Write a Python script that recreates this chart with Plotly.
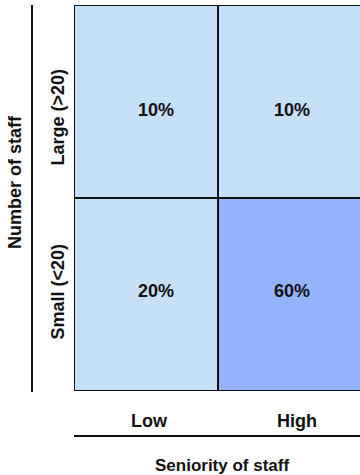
import plotly.graph_objects as go

seniority = ["Low", "High"]
staff_size = ["Small (<20)", "Large (>20)"]
shares = [[20, 60], [10, 10]]  # rows: Small, Large; cols: Low, High
x_title = "Seniority of staff"
y_title = "Number of staff"

LIGHT = "#C7E0FA"
DARK = "#94B3FC"
FONT = "Liberation Sans, Arial, sans-serif"
FS = 18

fig = go.Figure(go.Heatmap(
    x=[0, 1], y=[0, 1], z=shares,
    zmin=0, zmax=100,
    colorscale=[[0, LIGHT], [0.4, LIGHT], [0.4, DARK], [1, DARK]],
    showscale=False,
    hoverinfo="skip",
))

W, H = 360, 475
L, R, T, B = 74, 0, 5, 84
pw = W - L - R
fig.update_layout(
    width=W, height=H,
    margin=dict(l=L, r=R, t=T, b=B),
    paper_bgcolor="white", plot_bgcolor="white",
    font=dict(family=FONT, size=FS, color="#111111"),
    xaxis=dict(range=[-0.5, 1.5 - 2/144], showgrid=False, zeroline=False,
               showticklabels=False, ticks="", fixedrange=True),
    yaxis=dict(range=[-0.5, 1.5], showgrid=False, zeroline=False,
               showticklabels=False, ticks="", fixedrange=True),
    showlegend=False,
)

# cell value labels
val_xshift = [10, 2]
val_yshift = [4, -8]
for j, row in enumerate(shares):
    for i, v in enumerate(row):
        fig.add_annotation(x=i, y=j, xref="x", yref="y",
                           xshift=val_xshift[i], yshift=val_yshift[j],
                           text=f"<b>{v}%</b>", showarrow=False,
                           font=dict(size=FS), xanchor="center", yanchor="middle")

line = dict(color="#111111", width=2)
# cell borders
for xv in [-0.5, 0.5]:
    fig.add_shape(type="line", xref="x", yref="y", x0=xv, x1=xv, y0=-0.5, y1=1.5, line=line)
for yv in [-0.5, 0.5, 1.5]:
    fig.add_shape(type="line", xref="x", yref="y", x0=-0.5, x1=1.5, y0=yv, y1=yv, line=line)

def px_x(p):
    return (p - L) / pw
def px_y(p):
    return (H - B - p) / (H - B - T)

# axis lines outside the grid
fig.add_shape(type="line", xref="paper", yref="paper",
              x0=px_x(32), x1=px_x(32), y0=px_y(5), y1=px_y(392), line=line)
fig.add_shape(type="line", xref="paper", yref="paper",
              x0=px_x(74), x1=px_x(362), y0=px_y(436), y1=px_y(436), line=line)

# category labels
x_shift = [3, 7]
for i, lab in enumerate(seniority):
    fig.add_annotation(x=i, y=px_y(421), xref="x", yref="paper", xshift=x_shift[i],
                       text=f"<b>{lab}</b>", showarrow=False,
                       font=dict(size=FS), xanchor="center", yanchor="middle")
y_shift = [3, -16]
for j, lab in enumerate(staff_size):
    fig.add_annotation(x=px_x(57), y=j, xref="paper", yref="y", yshift=y_shift[j],
                       text=f"<b>{lab}</b>", showarrow=False, textangle=-90,
                       font=dict(size=FS), xanchor="center", yanchor="middle")

fig.add_annotation(x=px_x(222), y=px_y(465), xref="paper", yref="paper",
                   text=f"<b>{x_title}</b>", showarrow=False, font=dict(size=17),
                   xanchor="center", yanchor="middle")
fig.add_annotation(x=px_x(15), y=px_y(182), xref="paper", yref="paper",
                   text=f"<b>{y_title}</b>", showarrow=False, font=dict(size=FS),
                   textangle=-90, xanchor="center", yanchor="middle")

fig.write_html("out.html")
